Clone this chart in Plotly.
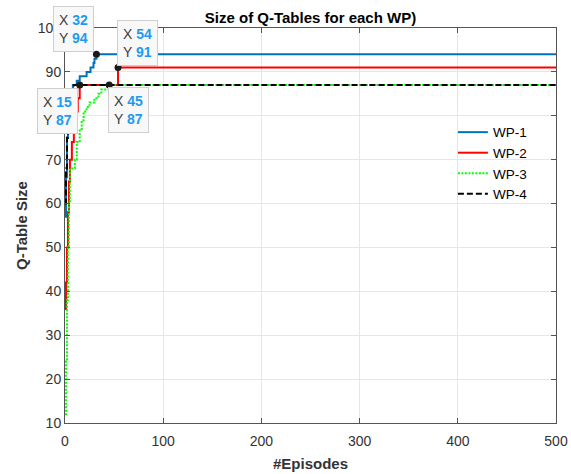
import plotly.graph_objects as go

# ---- data ----
ep_wp1 = [0, 1, 2, 3, 4, 5, 6, 8, 12, 15, 22, 26, 29, 30, 32, 500]
wp1 = [57, 66, 75, 80, 83, 85, 86, 87, 88, 89, 90, 91, 92, 93, 94, 94]

ep_wp2 = [0, 1, 2, 3, 4, 5, 7, 9, 11, 13, 15, 54, 500]
wp2 = [36, 42, 50, 58, 65, 70, 74, 78, 81, 84, 87, 91, 91]

ep_wp3 = [0, 1, 2, 3, 4, 5, 10, 12, 15, 17, 19, 22, 25, 30, 34, 37, 45, 500]
wp3 = [12, 24, 38, 50, 60, 68, 70, 74, 77, 79, 81, 82, 83, 84, 85, 86, 87, 87]

ep_wp4 = [0, 1, 2, 3, 4, 6, 9, 500]
wp4 = [60, 68, 75, 80, 83, 85, 87, 87]

series_names = ["WP-1", "WP-2", "WP-3", "WP-4"]

# data tips: (x, y)
tips_x = [32, 54, 15, 45]
tips_y = [94, 91, 87, 87]

x_ticks = [0, 100, 200, 300, 400, 500]
y_ticks = [10, 20, 30, 40, 50, 60, 70, 80, 90, 100]

FONT = "Liberation Sans, Arial, Helvetica, sans-serif"

fig = go.Figure()
styles = [
    dict(color="#0072BD", width=2, dash="solid"),
    dict(color="#FF0000", width=2, dash="solid"),
    dict(color="#00FF00", width=2, dash="2px,1.5px"),
    dict(color="#000000", width=2, dash="6px,3px"),
]
for xs, ys, name, st in zip([ep_wp1, ep_wp2, ep_wp3, ep_wp4], [wp1, wp2, wp3, wp4], series_names, styles):
    fig.add_trace(go.Scatter(x=xs, y=ys, mode="lines", name=name, line=dict(shape="hv", **st)))

fig.add_trace(go.Scatter(x=tips_x, y=tips_y, mode="markers", showlegend=False,
                         marker=dict(color="#1a1a1a", size=7), cliponaxis=False))

tip_pos = [
    dict(xanchor="right", yanchor="bottom", xshift=-2, yshift=2),
    dict(xanchor="left", yanchor="bottom", xshift=-1, yshift=2),
    dict(xanchor="right", yanchor="top", xshift=-2, yshift=-3),
    dict(xanchor="left", yanchor="top", xshift=-1, yshift=-2),
]
for tx, ty, pos in zip(tips_x, tips_y, tip_pos):
    txt = (f"X <b><span style='color:#1E9BF0'>{tx}</span></b><br>"
           f"Y <b><span style='color:#1E9BF0'>{ty}</span></b>")
    fig.add_annotation(x=tx, y=ty, xref="x", yref="y", text=txt, showarrow=False,
                       align="left", bgcolor="#F8F8F8", bordercolor="#CFCFCF",
                       borderwidth=1, borderpad=5,
                       font=dict(family=FONT, size=14, color="#404040"), **pos)

axis_common = dict(
    showline=True, linecolor="#555555", linewidth=1, mirror="ticks",
    ticks="inside", ticklen=5, tickcolor="#555555",
    showgrid=True, gridcolor="#E6E6E6", gridwidth=1, zeroline=False,
    automargin=False,
    tickfont=dict(family=FONT, size=14, color="#333333"),
)

fig.update_xaxes(range=[0, 500], tickvals=x_ticks, ticklabelstandoff=5, **axis_common,
                 title=dict(text="<b>#Episodes</b>", font=dict(family=FONT, size=15, color="#333333"), standoff=10))
fig.update_yaxes(range=[10, 100], tickvals=y_ticks, **axis_common,
                 title=dict(text="<b>Q-Table Size</b>", font=dict(family=FONT, size=15, color="#333333"), standoff=6))

fig.update_layout(
    width=571, height=474,
    margin=dict(l=65, r=15, t=28, b=51),
    paper_bgcolor="white", plot_bgcolor="white",
    title=dict(text="<b>Size of Q-Tables for each WP)</b>", x=0.5, xref="paper",
               y=1 - 18 / 474, yref="container", yanchor="middle", automargin=False,
               font=dict(family=FONT, size=15, color="#000000")),
    legend=dict(x=0.79, y=0.775, xanchor="left", yanchor="top", bgcolor="rgba(255,255,255,0)",
                font=dict(family=FONT, size=13.5, color="#000000"), tracegroupgap=0),
    showlegend=True,
)

fig.write_html("out.html", config={"displayModeBar": False},
               post_script="document.body.style.margin='0px';document.body.style.overflow='hidden';")
